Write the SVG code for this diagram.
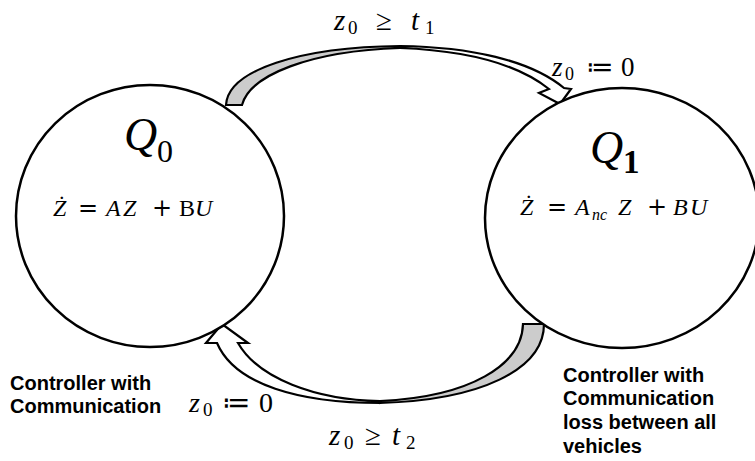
<svg xmlns="http://www.w3.org/2000/svg" width="755" height="461" viewBox="0 0 755 461">
<style>
.node{fill:#fff;stroke:#000;stroke-width:2.5}
.back{fill:#cccccc;stroke:#000;stroke-width:2.2;stroke-linejoin:miter}
.front{fill:#fff;stroke:#000;stroke-width:2.2;stroke-linejoin:miter}
.m{font-family:"Liberation Serif","DejaVu Serif",serif;fill:#000}
.i{font-style:italic}
.op{font-family:"DejaVu Serif","Liberation Serif",serif;font-style:normal}
.cd{font-family:"DejaVu Sans","Liberation Serif",sans-serif;font-style:normal}
.lbl{font-family:"Liberation Sans",Arial,sans-serif;font-weight:bold;font-size:20px;fill:#000}
</style>
<rect width="755" height="461" fill="#fff"/>
<g id="connectors">
  <g id="edge-q0-q1">
    <path class="back" d="M226,105 C228,70 300,47 400,46 L400,48 C310,51 250,75 242,105 Z"/>
    <path class="front" d="M400,46 C470,47 530,60 564,88 L571,89 L560,104 L539,93 L549,89 C525,70 480,51 400,48 Z"/>
  </g>
  <g id="edge-q1-q0">
    <path class="back" d="M544,324 C544,370 480,400 380,403 L380,401 C470,397 522,365 523,324 Z"/>
    <path class="front" d="M380,403 C300,403 235,385 217,343 L206,343 L222,324 L248,343 L238,343 C258,378 315,400 380,401 Z"/>
  </g>
</g>
<g id="node-q0">
  <ellipse class="node" cx="150" cy="216" rx="134" ry="131"/>
  <text class="m" y="150" font-size="46"><tspan x="124" class="i">Q</tspan><tspan x="157" y="162" font-size="32">0</tspan></text>
  <text class="m" y="216" font-size="24"><tspan x="53" class="i">Ż</tspan><tspan x="78" class="op">=</tspan><tspan x="106" class="i">A</tspan><tspan x="123" class="i">Z</tspan><tspan x="152" class="op">+</tspan><tspan x="179">B</tspan><tspan x="195" class="i">U</tspan></text>
</g>
<g id="node-q1">
  <ellipse class="node" cx="622" cy="218" rx="137" ry="130"/>
  <text class="m" y="163" font-size="46"><tspan x="590" class="i">Q</tspan><tspan x="623" y="173" font-size="33" font-weight="bold">1</tspan></text>
  <text class="m" y="215" font-size="24"><tspan x="520" class="i">Ż</tspan><tspan x="547" class="op">=</tspan><tspan x="575" class="i">A</tspan><tspan x="592" y="220" font-size="16" class="i">nc</tspan><tspan x="618" y="215" class="i">Z</tspan><tspan x="647" class="op">+</tspan><tspan x="673" class="i">B</tspan><tspan x="690" class="i">U</tspan></text>
</g>
<g id="edge-labels">
  <text class="m" y="30" font-size="29"><tspan x="334" class="i">z</tspan><tspan x="348" y="34" font-size="19">0</tspan><tspan x="376" y="30">≥</tspan><tspan x="411" class="i">t</tspan><tspan x="425" y="34" font-size="19">1</tspan></text>
  <text class="m" y="76" font-size="27"><tspan x="552" class="i">z</tspan><tspan x="565" y="80" font-size="18">0</tspan><tspan x="586" y="76" class="cd">≔</tspan><tspan x="621">0</tspan></text>
  <text class="m" y="412" font-size="28"><tspan x="189" class="i">z</tspan><tspan x="203" y="416" font-size="19">0</tspan><tspan x="222" y="412" class="cd">≔</tspan><tspan x="259">0</tspan></text>
  <text class="m" y="445" font-size="29"><tspan x="329" class="i">z</tspan><tspan x="344" y="449" font-size="19">0</tspan><tspan x="365" y="445">≥</tspan><tspan x="392" class="i">t</tspan><tspan x="406" y="449" font-size="19">2</tspan></text>
</g>
<g id="notes">
  <text class="lbl" x="10" y="390">Controller with</text>
  <text class="lbl" x="10" y="413">Communication</text>
  <text class="lbl" x="563" y="382">Controller with</text>
  <text class="lbl" x="563" y="405">Communication</text>
  <text class="lbl" x="563" y="429">loss between all</text>
  <text class="lbl" x="563" y="453">vehicles</text>
</g>
</svg>
